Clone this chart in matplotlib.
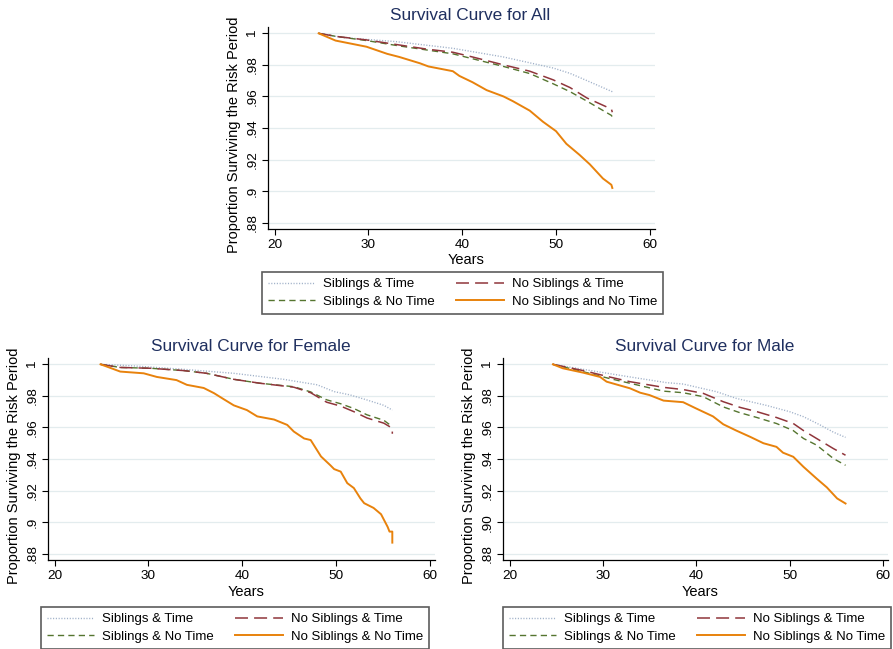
import matplotlib
matplotlib.use("Agg")
import matplotlib.pyplot as plt

plt.rcParams['font.family'] = ['Liberation Sans', 'DejaVu Sans']

# ---- data ----
series_labels = ["Siblings & Time", "Siblings & No Time",
                 "No Siblings & Time", "No Siblings & No Time"]
all_labels = ["Siblings & Time", "Siblings & No Time",
              "No Siblings & Time", "No Siblings and No Time"]

yticks = [0.88, 0.90, 0.92, 0.94, 0.96, 0.98, 1.00]
ytick_labels = [".88", ".9", ".92", ".94", ".96", ".98", "1"]
ytick_labels_male = [".88", ".90", ".92", ".94", ".96", ".98", "1"]
xticks = [20, 30, 40, 50, 60]

# All
all_sib_time_age = [24.7, 26.6, 28.4, 33.0, 39.0, 44.4, 49.7, 51.5, 53.3, 56.0]
all_sib_time_surv = [1.0, 0.998, 0.9968, 0.9947, 0.9905, 0.985, 0.978, 0.9746, 0.970, 0.963]
all_sib_notime_age = [24.7, 26.6, 29.8, 33.3, 39.0, 44.4, 47.2, 49.7, 51.5, 53.3, 55.9, 56.0]
all_sib_notime_surv = [1.0, 0.998, 0.9954, 0.992, 0.987, 0.979, 0.9745, 0.968, 0.963, 0.957, 0.948, 0.947]
all_nosib_time_age = [24.7, 26.6, 29.8, 33.3, 36.2, 39.0, 41.1, 44.4, 47.2, 49.7, 51.5, 53.3, 55.9, 56.0]
all_nosib_time_surv = [1.0, 0.998, 0.9958, 0.9926, 0.990, 0.988, 0.985, 0.980, 0.976, 0.9705, 0.9656, 0.959, 0.952, 0.950]
all_nosib_notime_age = [24.7, 26.5, 29.8, 32.0, 33.3, 35.5, 36.4, 39.0, 39.7, 41.1, 42.6, 44.4,
                        45.4, 47.2, 48.6, 50.0, 51.1, 52.5, 53.6, 55.0, 55.9, 56.0]
all_nosib_notime_surv = [1.0, 0.9954, 0.9915, 0.987, 0.985, 0.981, 0.979, 0.976, 0.973, 0.969, 0.964, 0.960,
                         0.957, 0.951, 0.944, 0.938, 0.930, 0.923, 0.917, 0.908, 0.904, 0.902]

# Female
fem_sib_time_age = [24.9, 28.4, 33.8, 39.1, 44.4, 48.0, 49.8, 51.5, 53.3, 55.1, 56.0]
fem_sib_time_surv = [1.0, 0.999, 0.9968, 0.9943, 0.9905, 0.987, 0.9827, 0.9806, 0.9774, 0.974, 0.971]
fem_sib_notime_age = [24.9, 27.0, 30.2, 33.8, 36.2, 39.1, 41.9, 45.5, 47.3, 49.0, 50.5, 51.9, 53.3, 55.1, 56.0]
fem_sib_notime_surv = [1.0, 0.998, 0.9975, 0.996, 0.9943, 0.9905, 0.988, 0.9858, 0.9825, 0.9775, 0.975,
                       0.972, 0.968, 0.9645, 0.9605]
fem_nosib_time_age = [24.9, 27.0, 30.2, 33.8, 36.2, 39.1, 41.9, 45.5, 47.3, 49.0, 50.5, 51.9, 53.3, 55.1, 56.0, 56.0]
fem_nosib_time_surv = [1.0, 0.998, 0.9975, 0.996, 0.9943, 0.9905, 0.988, 0.9855, 0.982, 0.976, 0.9735,
                       0.970, 0.966, 0.9627, 0.9595, 0.956]
fem_nosib_notime_age = [24.9, 25.6, 27.0, 29.5, 30.9, 33.0, 34.1, 35.9, 37.0, 38.0, 39.1, 40.5, 41.6, 43.4,
                        44.8, 45.5, 46.6, 47.3, 48.4, 49.4, 49.8, 50.5, 51.2, 51.9, 52.6, 53.0, 54.0, 54.8,
                        55.5, 55.7, 56.0, 56.0]
fem_nosib_notime_surv = [1.0, 0.9985, 0.9954, 0.9943, 0.992, 0.990, 0.987, 0.985, 0.9817, 0.978, 0.974,
                         0.971, 0.967, 0.965, 0.9616, 0.9574, 0.953, 0.952, 0.9416, 0.936, 0.9336, 0.932,
                         0.9247, 0.9216, 0.915, 0.912, 0.909, 0.905, 0.897, 0.894, 0.894, 0.887]

# Male
male_sib_time_age = [24.65, 27.9, 32.9, 36.8, 38.6, 42.2, 44.3, 47.5, 50.0, 51.5, 53.3, 54.7, 56.0]
male_sib_time_surv = [1.0, 0.9968, 0.992, 0.9884, 0.9875, 0.9826, 0.9784, 0.974, 0.970, 0.9668, 0.9615,
                      0.957, 0.9537]
male_time_age = [24.65, 27.9, 30.7, 32.9, 36.5, 38.6, 40.75, 42.9, 44.7, 46.5, 48.6, 50.4, 51.5, 52.9, 54.7, 56.0]
male_sib_notime_surv = [1.0, 0.9953, 0.991, 0.988, 0.983, 0.982, 0.9795, 0.973, 0.9693, 0.9663, 0.9625,
                        0.958, 0.953, 0.9488, 0.9403, 0.936]
male_nosib_time_surv = [1.0, 0.996, 0.992, 0.989, 0.9854, 0.984, 0.9816, 0.9763, 0.9727, 0.970, 0.9663,
                        0.9625, 0.958, 0.953, 0.9466, 0.9424]
male_nosib_notime_age = [24.65, 25.7, 27.9, 29.7, 30.4, 32.9, 34.0, 35.0, 36.5, 38.6, 40.0, 41.8, 42.9,
                         44.3, 45.8, 47.2, 48.6, 49.3, 50.4, 51.5, 52.9, 54.0, 55.1, 56.0]
male_nosib_notime_surv = [1.0, 0.9975, 0.9947, 0.992, 0.989, 0.9848, 0.982, 0.9805, 0.977, 0.976, 0.972,
                          0.967, 0.962, 0.958, 0.954, 0.950, 0.9477, 0.944, 0.9414, 0.935, 0.9276, 0.922,
                          0.915, 0.9118]

# ---- styles ----
styles = [
    dict(color="#9fb0c8", lw=1.0, linestyle=(0, (0.8, 1.2))),
    dict(color="#55752f", lw=1.0, linestyle=(0, (4.5, 3.0))),
    dict(color="#90353b", lw=1.1, linestyle=(0, (8.5, 4.0))),
    dict(color="#e8820c", lw=1.4, linestyle="-"),
]
title_color = "#1f2f5f"
W, H = 893, 649


def panel(fig, box, legend_box, title, curves, labels, ylabels):
    l, t, r, b = box
    ax = fig.add_axes([l / W, 1 - b / H, (r - l) / W, (b - t) / H])
    for (age, surv), st in zip(curves, styles):
        ax.plot(age, surv, **st)
    ax.set_xlim(19.3, 60.55)
    ax.set_ylim(0.876, 1.004)
    ax.set_xticks(xticks)
    ax.set_yticks(yticks)
    ax.set_yticklabels(ylabels, rotation=90, va="center")
    ax.tick_params(labelsize=9.7, length=4, width=0.8, colors="black", pad=3)
    ax.grid(axis="y", color="#e3ecee", lw=0.9)
    ax.set_axisbelow(True)
    for s in ["top", "right"]:
        ax.spines[s].set_visible(False)
    for s in ["left", "bottom"]:
        ax.spines[s].set_linewidth(0.9)
    w = r - l
    ax.set_xlabel("Years", fontsize=10.5, labelpad=2)
    ax.xaxis.label.set_x(0.5 + 5 / w)
    ax.set_ylabel("Proportion Surviving the Risk Period", fontsize=10.5, labelpad=4)
    ax.yaxis.label.set_y(0.5 - 7 / (b - t))
    ax.set_title(title, fontsize=12.4, color=title_color, pad=5, x=0.5 + 9 / w)

    handles = [plt.Line2D([], [], **st) for st in styles]
    ll, lt, lr, lb = legend_box
    leg = fig.legend(handles, labels, ncol=2, loc="upper left",
                     bbox_to_anchor=(ll / W, 1 - lt / H), fontsize=9.5,
                     handlelength=3.6, handletextpad=0.6, columnspacing=1.6,
                     labelspacing=0.42, borderpad=0.45, fancybox=False,
                     frameon=True, borderaxespad=0)
    leg.get_frame().set_edgecolor("#333333")
    leg.get_frame().set_linewidth(1.2)
    return ax


fig = plt.figure(figsize=(W / 100, H / 100), dpi=100)

panel(fig, (268, 27, 655, 229), (262, 272, 662, 313), "Survival Curve for All",
      [(all_sib_time_age, all_sib_time_surv), (all_sib_notime_age, all_sib_notime_surv),
       (all_nosib_time_age, all_nosib_time_surv), (all_nosib_notime_age, all_nosib_notime_surv)],
      all_labels, ytick_labels)

panel(fig, (48, 358, 435, 560), (41, 607, 428, 648), "Survival Curve for Female",
      [(fem_sib_time_age, fem_sib_time_surv), (fem_sib_notime_age, fem_sib_notime_surv),
       (fem_nosib_time_age, fem_nosib_time_surv), (fem_nosib_notime_age, fem_nosib_notime_surv)],
      series_labels, ytick_labels)

panel(fig, (503, 358, 888, 560), (503, 607, 893, 649), "Survival Curve for Male",
      [(male_sib_time_age, male_sib_time_surv), (male_time_age, male_sib_notime_surv),
       (male_time_age, male_nosib_time_surv), (male_nosib_notime_age, male_nosib_notime_surv)],
      series_labels, ytick_labels_male)

fig.savefig("out.png", dpi=100, facecolor="white")
